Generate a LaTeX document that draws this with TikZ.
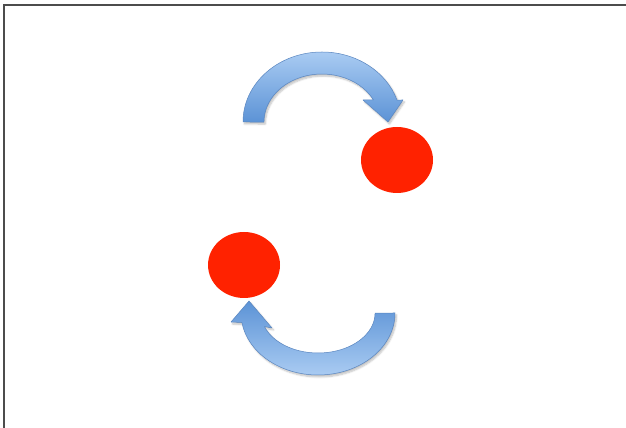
\documentclass[tikz,border=0pt]{standalone}
\usepackage{tikz}
\usetikzlibrary{shapes.geometric,shadows.blur}
\definecolor{ballred}{HTML}{FF2200}
\definecolor{arrowlight}{HTML}{A9CBF2}
\definecolor{arrowdark}{HTML}{5C93D6}
\definecolor{arrowedge}{HTML}{5A86C0}
\tikzset{
    ball/.style={
        ellipse,fill=ballred,
        minimum width=72pt,minimum height=66pt,inner sep=0pt
    },
    bend arrow/.style={
        draw=arrowedge,line width=0.5pt,line join=round,
        blur shadow={shadow xshift=1.5pt,shadow yshift=-2pt,shadow blur steps=6,shadow opacity=25}
    },
    frame line/.style={draw=black!70,line width=1.6pt}
}
\begin{document}
\begin{tikzpicture}[x=1pt,y=1pt]
\useasboundingbox (0,0) rectangle (626,428);
\draw[frame line] (626,423) -- (4,423) -- (4,0);
% upper arrow
\draw[bend arrow,top color=arrowlight,bottom color=arrowdark]
    (243,306) arc[start angle=180,end angle=18.3,x radius=79,y radius=70]
    -- (403,328) -- (388,306) -- (363,328) -- (373.5,328)
    arc[start angle=27.3,end angle=180,x radius=58,y radius=48] -- cycle;
% lower arrow
\draw[bend arrow,top color=arrowdark,bottom color=arrowlight]
    (395,115) arc[start angle=0,end angle=-171.2,x radius=77,y radius=62]
    -- (231,106) -- (249,127) -- (272,100) -- (264.4,101.5)
    arc[start angle=-160.3,end angle=0,x radius=57,y radius=40] -- cycle;
\node[ball] (upper) at (397,268) {};
\node[ball] (lower) at (244,163) {};
\end{tikzpicture}
\end{document}
